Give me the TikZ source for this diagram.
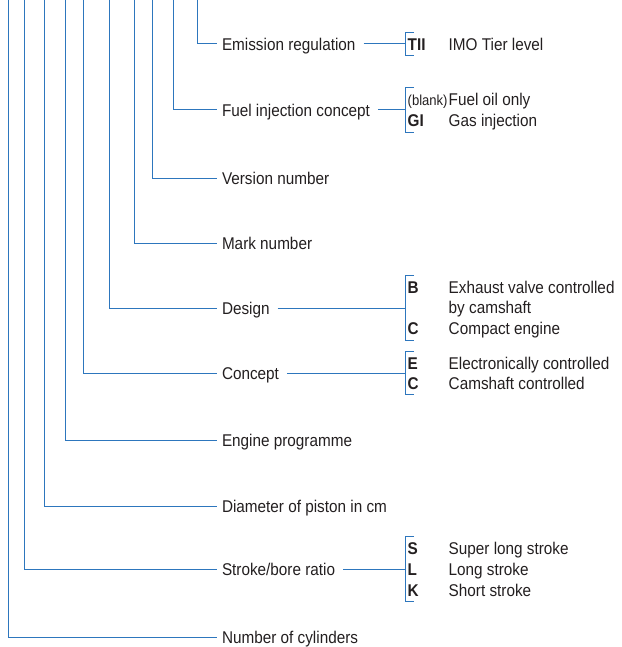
\documentclass[tikz,border=0pt]{standalone}
\usepackage{fontspec}
\setmainfont{Liberation Sans}[FakeStretch=0.9]
\usetikzlibrary{calc}
\definecolor{leaderBlue}{RGB}{45,118,189}
\definecolor{textDark}{RGB}{35,31,32}
\tikzset{%
  % Styles for the labels, the code letters and their meanings:
     base/.style = {font=\fontsize{17}{20}\selectfont, text=textDark,
                    inner sep=0pt, text height=12.2pt, text depth=0pt, anchor=west},
    feature/.style = {base, outer xsep=5pt},
    codeLetter/.style = {base, font=\fontsize{17}{20}\selectfont\bfseries, inner ysep=5.4pt},
    codeBlankLetter/.style = {codeLetter, font=\fontsize{14.5}{16}\selectfont},
    meaning/.style = {base},
  % Styles for the leader lines and the brackets:
    leader/.style = {draw=leaderBlue, line width=1pt},
    toBracket/.style = {leader, shorten <=3pt},
}

\begin{document}
\begin{tikzpicture}[x=1pt, y=-1pt]
  \useasboundingbox (0,0) rectangle (621,647);

  % Top ends of the leader lines
  \coordinate (topCylinders)   at (8.5,0);
  \coordinate (topStroke)      at (24,0);
  \coordinate (topDiameter)    at (44,0);
  \coordinate (topProgramme)   at (65,0);
  \coordinate (topConcept)     at (83,0);
  \coordinate (topDesign)      at (109,0);
  \coordinate (topMark)        at (134,0);
  \coordinate (topVersion)     at (152,0);
  \coordinate (topFuel)        at (173,0);
  \coordinate (topEmission)    at (197,0);

  % Specification of nodes (position, etc.)
  \node (emissionRegulation) [feature] at (217,44)  {Emission regulation};
  \node (fuelInjection)      [feature] at (217,110) {Fuel injection concept};
  \node (versionNumber)      [feature] at (217,178) {Version number};
  \node (markNumber)         [feature] at (217,243) {Mark number};
  \node (design)             [feature] at (217,308) {Design};
  \node (concept)            [feature] at (217,373) {Concept};
  \node (engineProgramme)    [feature] at (217,440) {Engine programme};
  \node (pistonDiameter)     [feature] at (217,506) {Diameter of piston in cm};
  \node (strokeBore)         [feature] at (217,569) {Stroke/bore ratio};
  \node (cylinders)          [feature] at (217,637) {Number of cylinders};

  \node (codeTII)   [codeLetter] at (407.5,44) {TII};
  \node (tierLevel) [meaning]    at (448.5,44) {IMO Tier level};

  \node (codeBlank)    [codeBlankLetter] at (407.5,99.5)  {(blank)};
  \node (fuelOil)      [meaning]         at (448.5,99.5)  {Fuel oil only};
  \node (codeGI)       [codeLetter]      at (407.5,120.5) {GI};
  \node (gasInjection) [meaning]         at (448.5,120.5) {Gas injection};

  \node (codeB)         [codeLetter] at (407.5,287.5) {B};
  \node (exhaustValve)  [meaning]    at (448.5,287.5) {Exhaust valve controlled};
  \node (byCamshaft)    [meaning]    at (448.5,307.5) {by camshaft};
  \node (codeC)         [codeLetter] at (407.5,328.5) {C};
  \node (compactEngine) [meaning]    at (448.5,328.5) {Compact engine};

  \node (codeE)      [codeLetter] at (407.5,363) {E};
  \node (electronic) [meaning]    at (448.5,363) {Electronically controlled};
  \node (codeCam)    [codeLetter] at (407.5,383) {C};
  \node (camshaft)   [meaning]    at (448.5,383) {Camshaft controlled};

  \node (codeS)       [codeLetter] at (407.5,548) {S};
  \node (superLong)   [meaning]    at (448.5,548) {Super long stroke};
  \node (codeL)       [codeLetter] at (407.5,569) {L};
  \node (longStroke)  [meaning]    at (448.5,569) {Long stroke};
  \node (codeK)       [codeLetter] at (407.5,590) {K};
  \node (shortStroke) [meaning]    at (448.5,590) {Short stroke};

  % Leader lines from the top down to the labels
  \draw[leader] (topEmission)  |- (emissionRegulation.west);
  \draw[leader] (topFuel)      |- (fuelInjection.west);
  \draw[leader] (topVersion)   |- (versionNumber.west);
  \draw[leader] (topMark)      |- (markNumber.west);
  \draw[leader] (topDesign)    |- (design.west);
  \draw[leader] (topConcept)   |- (concept.west);
  \draw[leader] (topProgramme) |- (engineProgramme.west);
  \draw[leader] (topDiameter)  |- (pistonDiameter.west);
  \draw[leader] (topStroke)    |- (strokeBore.west);
  \draw[leader] (topCylinders) |- (cylinders.west);

  % Brackets round the code letters
  \draw[leader] ([xshift=6.5pt]codeTII.north west) -- ([xshift=-2.5pt]codeTII.north west)
                -- ([xshift=-2.5pt]codeTII.south west) -- ([xshift=6.5pt]codeTII.south west);
  \draw[leader] ([xshift=6.5pt]codeBlank.north west) -- ([xshift=-2.5pt]codeBlank.north west)
                -- ([xshift=-2.5pt]codeGI.south west) -- ([xshift=6.5pt]codeGI.south west);
  \draw[leader] ([xshift=6.5pt]codeB.north west) -- ([xshift=-2.5pt]codeB.north west)
                -- ([xshift=-2.5pt]codeC.south west) -- ([xshift=6.5pt]codeC.south west);
  \draw[leader] ([xshift=6.5pt]codeE.north west) -- ([xshift=-2.5pt]codeE.north west)
                -- ([xshift=-2.5pt]codeCam.south west) -- ([xshift=6.5pt]codeCam.south west);
  \draw[leader] ([xshift=6.5pt]codeS.north west) -- ([xshift=-2.5pt]codeS.north west)
                -- ([xshift=-2.5pt]codeK.south west) -- ([xshift=6.5pt]codeK.south west);

  % Lines from the labels to the brackets
  \draw[toBracket] (emissionRegulation.east) -- ([xshift=-2.5pt]emissionRegulation.east -| codeTII.west);
  \draw[toBracket] (fuelInjection.east) -- ([xshift=-2.5pt]fuelInjection.east -| codeGI.west);
  \draw[toBracket] (design.east) -- ([xshift=-2.5pt]design.east -| codeB.west);
  \draw[toBracket] (concept.east) -- ([xshift=-2.5pt]concept.east -| codeE.west);
  \draw[toBracket] (strokeBore.east) -- ([xshift=-2.5pt]strokeBore.east -| codeL.west);

\end{tikzpicture}
\end{document}
